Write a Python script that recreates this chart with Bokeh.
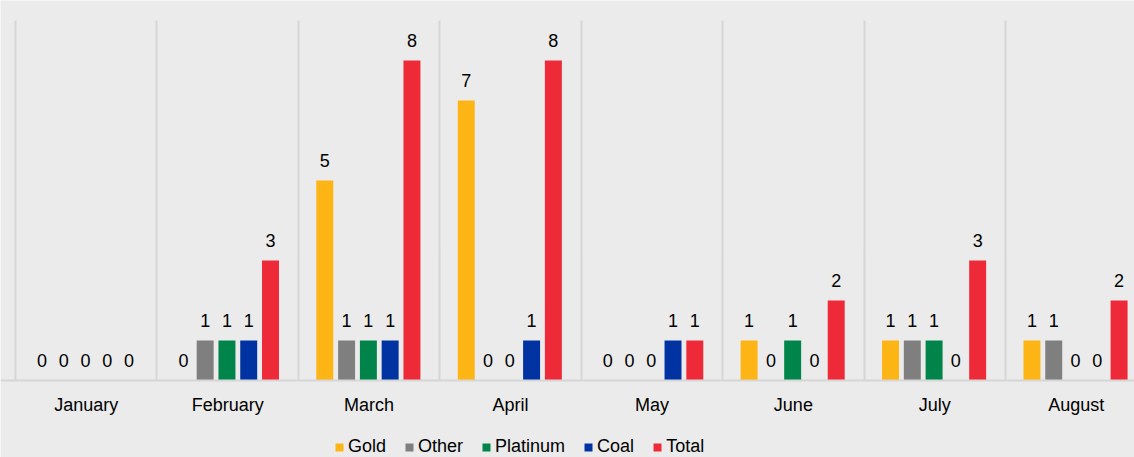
from bokeh.plotting import figure
from bokeh.models import ColumnDataSource, Range1d, FixedTicker, Legend, Grid, Span
from bokeh.transform import dodge
from bokeh.core.properties import value
from bokeh.embed import file_html
from bokeh.resources import INLINE

months = ["January", "February", "March", "April", "May", "June", "July", "August"]
series = ["Gold", "Other", "Platinum", "Coal", "Total"]
gold = [0, 0, 5, 7, 0, 1, 1, 1]
other = [0, 1, 1, 0, 0, 0, 1, 1]
platinum = [0, 1, 1, 0, 0, 1, 1, 0]
coal = [0, 1, 1, 1, 1, 0, 0, 0]
total = [0, 3, 8, 8, 1, 2, 3, 2]
colors = ["#FDB515", "#7F7F7F", "#00844A", "#0033A1", "#EE2A39"]

values = [gold, other, platinum, coal, total]
xs = [i + 0.5 for i in range(len(months))]
data = {"x": xs, "month": months, "zero": [0] * len(months)}
for name, vals in zip(series, values):
    data[name] = vals
    data[name + "_lbl"] = [str(v) for v in vals]
src = ColumnDataSource(data)

FONT = "Liberation Sans"
BG = "#ebebeb"
LINE = "#d6d6d6"

# frame fills the whole canvas; 141.43 px per month, 40 px per unit
p = figure(width=1134, height=457, output_backend="svg", toolbar_location=None,
           x_axis_type=None, y_axis_type=None,
           x_range=Range1d(-0.1061, 7.912), y_range=Range1d(-1.925, 9.5),
           min_border=0,
           background_fill_color=BG, border_fill_color=BG, outline_line_color=None)

grid_kw = dict(dimension=0, ticker=FixedTicker(ticks=list(range(0, 9))),
               grid_line_color=LINE, grid_line_width=2)
if "cross_bounds" in Grid.properties():
    grid_kw["cross_bounds"] = (0, 9)
p.add_layout(Grid(**grid_kw))
p.add_layout(Span(location=0, dimension="width", line_color=LINE, line_width=2))

offsets = [-0.313, -0.159, -0.005, 0.149, 0.303]
items = []
for name, col, off in zip(series, colors, offsets):
    r = p.vbar(x=dodge("x", off, range=p.x_range), top=name, width=0.12, source=src,
               fill_color=col, line_color=col, line_width=0)
    items.append((name, [r]))
    p.text(x=dodge("x", off, range=p.x_range), y=name, text=name + "_lbl", source=src,
           text_align="center", text_baseline="bottom", y_offset=-14,
           text_font=value(FONT), text_font_size="18px", text_color="#000000")

# month labels under the baseline
p.text(x="x", y="zero", text="month", source=src, text_align="center",
       text_baseline="middle", y_offset=24,
       text_font=value(FONT), text_font_size="18px", text_color="#000000")

legend = Legend(items=items, orientation="horizontal", location=(334, 0),
                glyph_width=10, glyph_height=10, label_standoff=4, spacing=18,
                label_height=20,
                label_text_font=FONT, label_text_font_size="18px",
                label_text_color="#000000",
                background_fill_alpha=0, border_line_color=None,
                padding=0, margin=0)
p.add_layout(legend, "center")

open("out.html", "w").write(file_html(p, INLINE))
